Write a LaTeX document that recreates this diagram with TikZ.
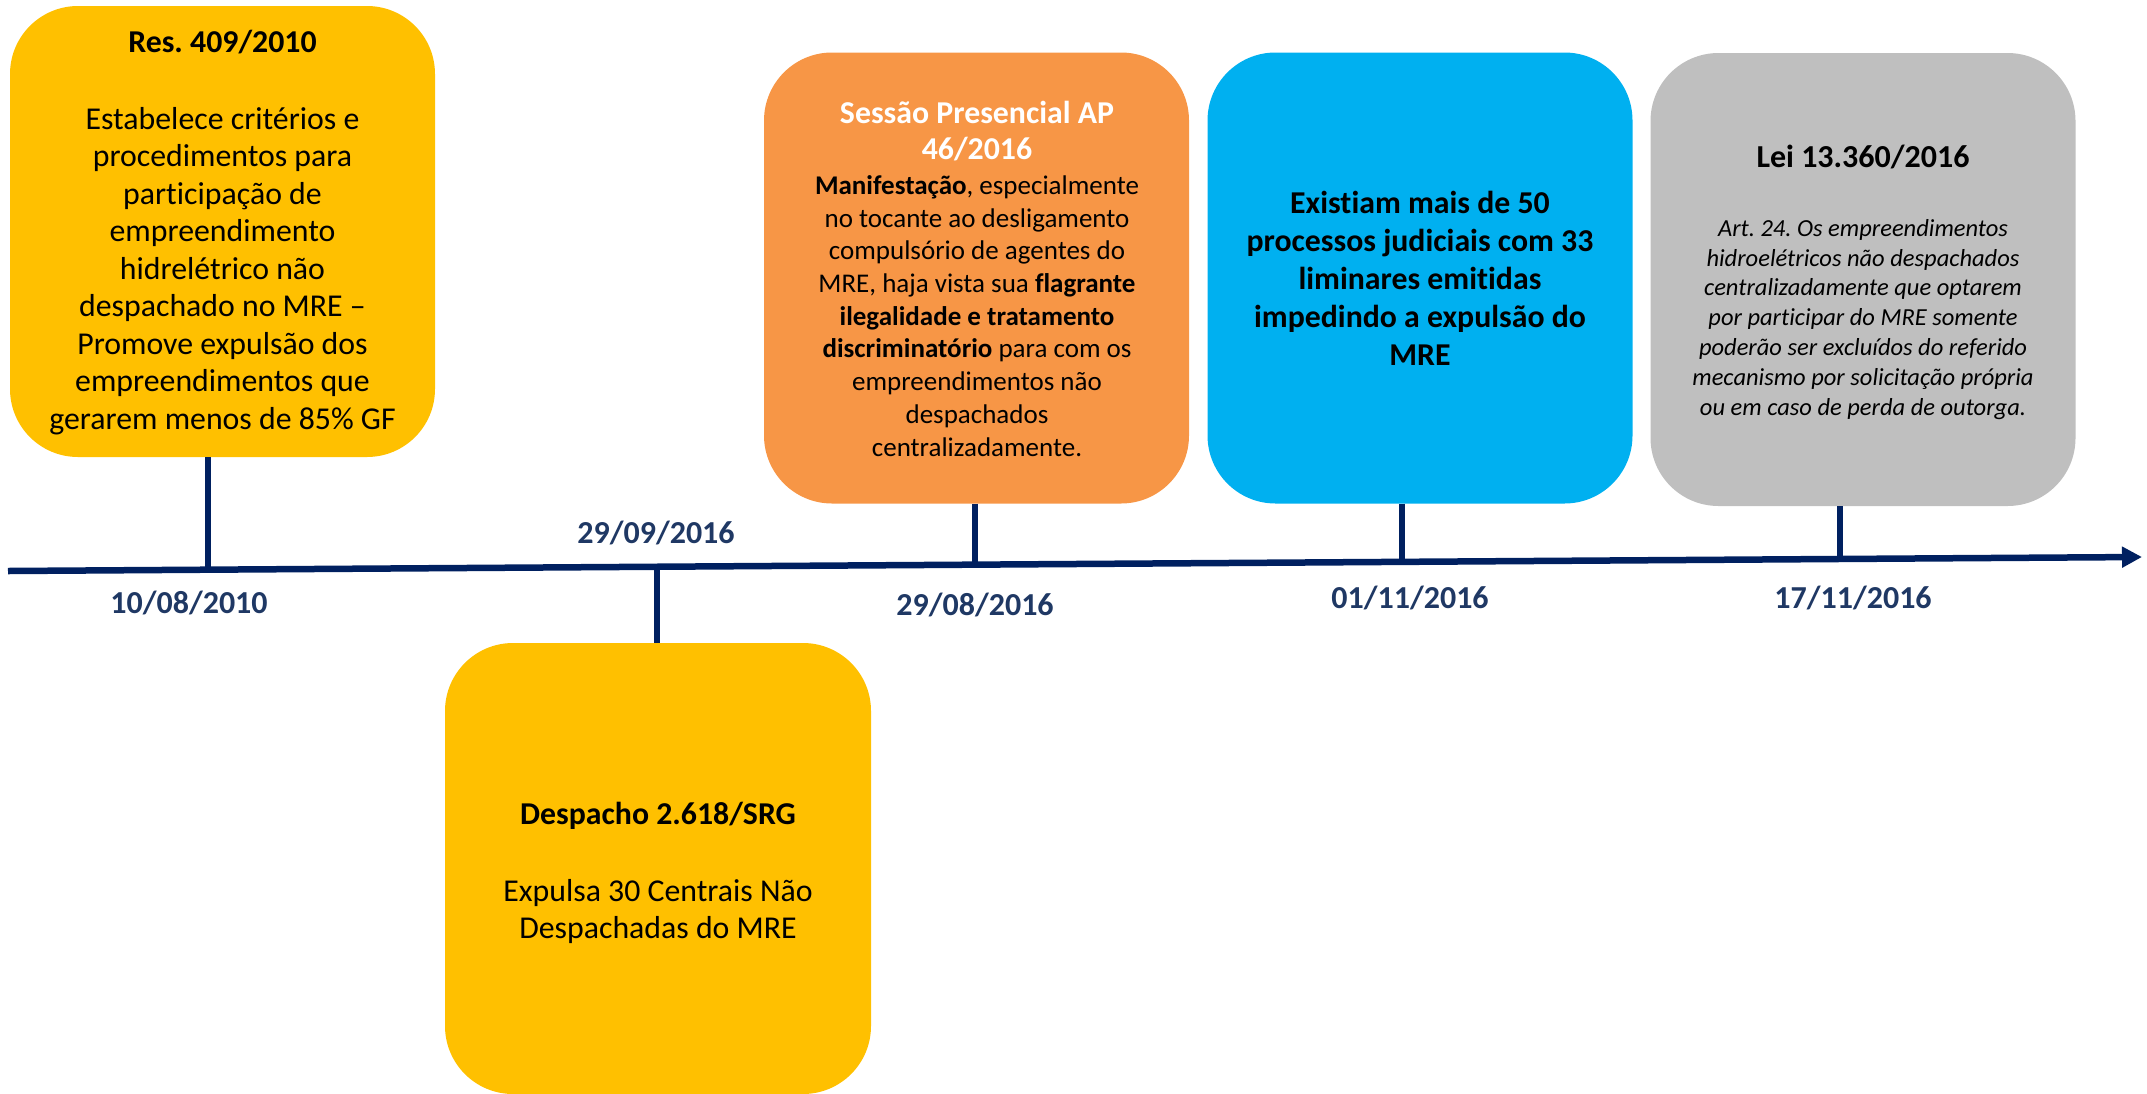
\documentclass[tikz,border=0pt]{standalone}
\usepackage{fontspec}
\setmainfont{Carlito}[Ligatures=NoCommon]
\usetikzlibrary{arrows.meta}
\frenchspacing
\definecolor{cYellow}{HTML}{FFC000}
\definecolor{cOrange}{HTML}{F79646}
\definecolor{cBlue}{HTML}{00B0F0}
\definecolor{cGrey}{HTML}{BFBFBF}
\definecolor{cNavy}{HTML}{002060}
\definecolor{cDate}{HTML}{1F3864}
\begin{document}
\begin{tikzpicture}[x=1pt,y=-1pt,
  evbox/.style={rounded corners=68pt, minimum width=425pt, minimum height=451pt, inner sep=0pt, draw=none},
  boxtext/.style={anchor=base, align=center, inner sep=0pt, text=black},
  datelbl/.style={anchor=base, inner sep=0pt, text=cDate, font=\fontsize{32}{38}\selectfont\bfseries},
  tickline/.style={draw=cNavy, line width=5.5pt},
  timeline/.style={draw=cNavy, line width=6.5pt, -{Triangle[length=20pt,width=20pt]}}
]
\useasboundingbox (0,0) rectangle (2147,1093);
\clip (0,0) rectangle (2147,1093);

% boxes
\node[evbox, fill=cYellow] (b1) at (222.5,231.5) {};
\node[evbox, fill=cOrange] (b2) at (976.5,278) {};
\node[evbox, fill=cBlue] (b3) at (1420,278) {};
\node[evbox, fill=cGrey, minimum height=453pt] (b4) at (1863,279.5) {};
\node[evbox, fill=cYellow, minimum width=426pt] (b5) at (658,868.5) {};

% box 1 (multi-line nodes are placed by the baseline of their last line)
\node[boxtext, font=\fontsize{31.8}{37.5}\selectfont\bfseries] (b1title) at (222.5,52) {Res. 409/2010};
\node[boxtext, font=\fontsize{31.8}{37.5}\selectfont] (b1body) at (222.5,429) {Estabelece critérios e\\procedimentos para\\participação de\\empreendimento\\hidrelétrico não\\despachado no MRE –\\Promove expulsão dos\\empreendimentos que\\gerarem menos de 85\% GF};

% box 2
\node[boxtext, text=white, font=\fontsize{31.8}{36}\selectfont\bfseries] (b2title) at (977,159) {Sessão Presencial AP\\46/2016};
\node[boxtext, font=\fontsize{27}{32.7}\selectfont] (b2body) at (977,456) {\textbf{Manifestação}, especialmente\\no tocante ao desligamento\\compulsório de agentes do\\MRE, haja vista sua \textbf{flagrante}\\\textbf{ilegalidade e tratamento}\\\textbf{discriminatório} para com os\\empreendimentos não\\despachados\\centralizadamente.};

% box 3
\node[boxtext, font=\fontsize{31.8}{38}\selectfont\bfseries] (b3body) at (1420,365) {Existiam mais de 50\\processos judiciais com 33\\liminares emitidas\\impedindo a expulsão do\\MRE};

% box 4
\node[boxtext, font=\fontsize{32}{37}\selectfont\bfseries] (b4title) at (1863,167) {Lei 13.360/2016};
\node[boxtext, font=\fontsize{24.5}{29.8}\selectfont\itshape] (b4body) at (1863,415) {Art. 24. Os empreendimentos\\hidroelétricos não despachados\\centralizadamente que optarem\\por participar do MRE somente\\poderão ser excluídos do referido\\mecanismo por solicitação própria\\ou em caso de perda de outorga.};

% box 5
\node[boxtext, font=\fontsize{31.8}{37}\selectfont\bfseries] (b5title) at (658,824) {Despacho 2.618/SRG};
\node[boxtext, font=\fontsize{31.8}{37}\selectfont] (b5body) at (658,938) {Expulsa 30 Centrais Não\\Despachadas do MRE};

% timeline
\coordinate (tlL) at (8,571);
\coordinate (tlR) at (2142,557);
\coordinate (t1) at (208,569.7);
\coordinate (t2) at (657,566.7);
\coordinate (t3) at (975,564.7);
\coordinate (t4) at (1402,561.9);
\coordinate (t5) at (1840,559.0);

\draw[tickline] (b1.south -| t1) -- (t1);
\draw[tickline] (t2) -- (b5.north -| t2);
\draw[tickline] (b2.south -| t3) -- (t3);
\draw[tickline] (b3.south -| t4) -- (t4);
\draw[tickline] (b4.south -| t5) -- (t5);
\draw[timeline] (tlL) -- (tlR);

% dates
\node[datelbl] (d1) at (189,613) {10/08/2010};
\node[datelbl] (d2) at (656,543) {29/09/2016};
\node[datelbl] (d3) at (975,615) {29/08/2016};
\node[datelbl] (d4) at (1410,608) {01/11/2016};
\node[datelbl] (d5) at (1853,608) {17/11/2016};
\end{tikzpicture}
\end{document}
